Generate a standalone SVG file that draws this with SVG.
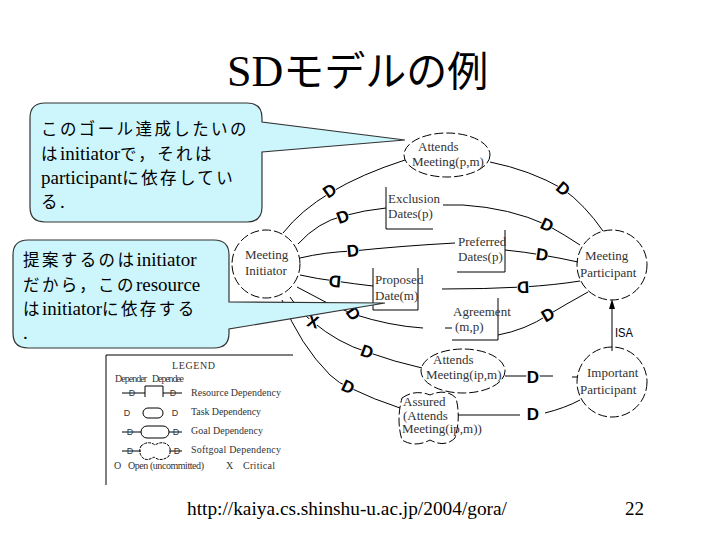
<svg xmlns="http://www.w3.org/2000/svg" width="720" height="540" viewBox="0 0 720 540">
<style>
.cl{fill:#ccf6fc;stroke:#333;stroke-width:1.2}
.ct{font-family:"Noto Sans CJK JP",sans-serif;font-size:16.5px;letter-spacing:2.4px;fill:#000}
.la{font-family:"Liberation Serif",serif;font-size:19px;letter-spacing:0}
.node{fill:none;stroke:#000;stroke-width:1;stroke-dasharray:9 3}
.lbl{font-family:"Liberation Serif",serif;font-size:13px;fill:#333}
.ln{fill:none;stroke:#000;stroke-width:1}
.d{font-family:"Liberation Sans",sans-serif;font-weight:bold;font-size:17px;text-anchor:middle;dominant-baseline:central;fill:#000}
.db{fill:#fff}
.lg{font-family:"Liberation Serif",serif;font-size:10px;fill:#333}
.lgd{font-family:"Liberation Sans",sans-serif;font-size:9px;text-anchor:middle;dominant-baseline:central;fill:#333}
</style>
<rect width="720" height="540" fill="#fff"/>
<text x="227" y="86" fill="#000"><tspan font-family="'Liberation Serif', serif" font-size="44">SD</tspan><tspan font-family="'Noto Sans CJK JP', sans-serif" font-size="41">モデルの例</tspan></text>

<g id="connectors">
<path class="ln" d="M283,233 Q318,188 405,160"/>
<path class="ln" d="M490,162 Q530,170 563,189 Q585,205 603,231"/>
<path class="ln" d="M298,244 Q318,222 343,216 Q365,210 386,208"/>
<path class="ln" d="M443,205 L463,205 Q510,208 547,225 Q565,235 580,245"/>
<path class="ln" d="M300,258 Q325,252 353,251 Q400,246 455,243"/>
<path class="ln" d="M505,250 Q525,252 542,255 Q560,258 578,262"/>
<path class="ln" d="M300,275 Q318,279 335,281 Q355,284 373,286"/>
<path class="ln" d="M442,289 Q485,289 523,287 Q555,285 580,281"/>
<path class="ln" d="M297,287 Q325,303 353,314 Q390,326 423,328 M445,328 H452"/>
<path class="ln" d="M498,335 Q525,330 548,315 Q568,303 588,292"/>
<path class="ln" d="M290,297 Q300,312 313,322 Q338,343 367,352 Q395,362 422,368"/>
<path class="ln" d="M505,376 H553 M572,377 H578"/>
<path class="ln" d="M282,300 Q300,345 330,375 Q340,384 348,387 Q375,400 400,408"/>
<path class="ln" d="M458,415 H520 M545,413 Q565,408 580,400"/>
<path class="ln" d="M612,351 V303"/>
<path d="M612,299 L609,309 L615,309 Z" fill="#000"/>
<text x="615" y="337" font-family="'Liberation Sans',sans-serif" font-size="13" textLength="18" lengthAdjust="spacingAndGlyphs" fill="#000">ISA</text>
<g transform="translate(330,191) rotate(-35)"><circle class="db" r="6"/><text class="d">D</text></g>
<g transform="translate(563,189) rotate(40)"><circle class="db" r="6"/><text class="d">D</text></g>
<g transform="translate(343,217) rotate(-20)"><circle class="db" r="6"/><text class="d">D</text></g>
<g transform="translate(547,225) rotate(25)"><circle class="db" r="6"/><text class="d">D</text></g>
<g transform="translate(353,251) rotate(-5)"><circle class="db" r="6"/><text class="d">D</text></g>
<g transform="translate(542,255) rotate(8)"><circle class="db" r="6"/><text class="d">D</text></g>
<g transform="translate(335,281) rotate(185)"><circle class="db" r="6"/><text class="d">D</text></g>
<g transform="translate(523,287) rotate(178)"><circle class="db" r="6"/><text class="d">D</text></g>
<g transform="translate(353,314) rotate(55)"><circle class="db" r="6"/><text class="d">D</text></g>
<g transform="translate(548,315) rotate(-30)"><circle class="db" r="6"/><text class="d">D</text></g>
<g transform="translate(367,352) rotate(20)"><circle class="db" r="6"/><text class="d">D</text></g>
<g transform="translate(533,377)"><circle class="db" r="7"/><text class="d" font-size="20">D</text></g>
<g transform="translate(348,387) rotate(25)"><circle class="db" r="6"/><text class="d">D</text></g>
<g transform="translate(533,414)"><circle class="db" r="6"/><text class="d">D</text></g>
<g transform="translate(313,322) rotate(15)"><circle class="db" r="5"/><text class="d" font-weight="normal" font-size="16">X</text></g>
</g>

<g id="meeting-initiator"><circle class="node" cx="266" cy="264" r="34"/><text class="lbl" font-size="13.5"><tspan x="245" y="259">Meeting</tspan><tspan x="245" y="275">Initiator</tspan></text></g>
<g id="meeting-participant"><circle class="node" cx="612" cy="265" r="35"/><text class="lbl" font-size="14.5"><tspan x="585" y="260">Meeting</tspan><tspan x="580" y="277">Participant</tspan></text></g>
<g id="important-participant"><circle class="node" cx="612" cy="382" r="35"/><text class="lbl" font-size="14.2"><tspan x="587" y="377">Important</tspan><tspan x="580" y="394">Participant</tspan></text></g>
<g id="attends-meeting-pm"><ellipse class="node" cx="447" cy="155" rx="43" ry="22"/><text class="lbl"><tspan x="418" y="151">Attends</tspan><tspan x="412" y="166">Meeting(p,m)</tspan></text></g>
<g id="exclusion-dates"><path class="ln" d="M386,187 V229 H433"/><text class="lbl"><tspan x="388" y="203">Exclusion</tspan><tspan x="388" y="218">Dates(p)</tspan></text></g>
<g id="preferred-dates"><path class="ln" d="M505,230 V272 H457"/><text class="lbl"><tspan x="458" y="246">Preferred</tspan><tspan x="458" y="261">Dates(p)</tspan></text></g>
<g id="proposed-date"><path class="ln" d="M373,268 V310 H418 V268"/><text class="lbl"><tspan x="375" y="284">Proposed</tspan><tspan x="375" y="300">Date(m)</tspan></text></g>
<g id="agreement"><path class="ln" d="M498,298 V340 H452"/><text class="lbl"><tspan x="453" y="316">Agreement</tspan><tspan x="455" y="331">(m,p)</tspan></text></g>
<g id="attends-meeting-ipm"><ellipse class="node" cx="463" cy="371" rx="42" ry="22"/><text class="lbl"><tspan x="433" y="364">Attends</tspan><tspan x="426" y="379">Meeting(ip,m)</tspan></text></g>
<g id="assured"><path class="node" d="M402,398 Q415,389 430,395 Q446,388 456,398 Q461,418 455,438 Q445,448 430,440 Q415,448 402,440 Q396,420 402,398 Z"/><text class="lbl" font-size="10.5"><tspan x="403" y="406">Assured</tspan><tspan x="403" y="419.5">(Attends</tspan><tspan x="402" y="433">Meeting(ip,m))</tspan></text></g>

<g id="legend">
<path class="ln" d="M106,355 H293 M106,355 V485"/>
<text class="lg" x="172" y="369" textLength="43">LEGEND</text>
<text class="lg" x="115" y="382" textLength="32">Depender</text><text class="lg" x="152" y="382" textLength="32">Dependee</text>
<path class="ln" d="M122,393 H145 M145,397 V386 H163 V397 M163,393 H182"/>
<text class="lgd" x="132" y="393">D</text><text class="lgd" x="173" y="393">D</text>
<text class="lg" x="191" y="396" textLength="90">Resource Dependency</text>
<text class="lgd" x="127" y="413">D</text>
<rect class="ln" x="143" y="408" width="20" height="10" rx="5"/>
<text class="lgd" x="175" y="413">D</text>
<text class="lg" x="191" y="415" textLength="70">Task Dependency</text>
<path class="ln" d="M122,432 H141 M169,432 H182"/>
<rect class="ln" x="141" y="426" width="28" height="12" rx="6"/>
<text class="lgd" x="130" y="432">D</text><text class="lgd" x="176" y="432">D</text>
<text class="lg" x="191" y="434" textLength="72">Goal Dependency</text>
<path class="ln" d="M122,451 H141 M169,451 H182"/>
<path class="ln" d="M141,446 Q148,440 155,445 Q163,440 169,446 Q172,452 168,457 Q160,462 154,457 Q146,462 142,457 Q138,452 141,446 Z" stroke-dasharray="3 1"/>
<text class="lgd" x="130" y="451">D</text><text class="lgd" x="177" y="451">D</text>
<text class="lg" x="191" y="453" textLength="90">Softgoal Dependency</text>
<text class="lg" x="114" y="469">O</text><text class="lg" x="128" y="469" textLength="76">Open (uncommitted)</text>
<text class="lg" x="226" y="469">X</text><text class="lg" x="243" y="469" textLength="32">Critical</text>
</g>

<g id="callout-1">
<path class="cl" d="M45,103 H247 Q262,103 262,118 V122 L405,140 L262,152 V207 Q262,222 247,222 H45 Q30,222 30,207 V118 Q30,103 45,103 Z"/>
<text class="ct"><tspan x="41" y="135">このゴール達成したいの</tspan><tspan x="41" y="160">は<tspan class="la">initiator</tspan>で，それは</tspan><tspan x="41" y="184"><tspan class="la">participant</tspan>に依存してい</tspan><tspan x="41" y="208">る<tspan class="la">.</tspan></tspan></text>
</g>
<g id="callout-2">
<path class="cl" d="M28,240 H214 Q229,240 229,255 V302 L385,303 L229,329 V333 Q229,348 214,348 H28 Q13,348 13,333 V255 Q13,240 28,240 Z"/>
<text class="ct"><tspan x="23" y="266">提案するのは<tspan class="la">initiator</tspan></tspan><tspan x="23" y="291">だから，この<tspan class="la">resource</tspan></tspan><tspan x="23" y="315">は<tspan class="la">initiator</tspan>に依存する</tspan><tspan x="23" y="339" class="la">.</tspan></text>
</g>

<text x="187" y="515" font-family="'Liberation Serif',serif" font-size="18" textLength="320" lengthAdjust="spacingAndGlyphs" fill="#000">http://kaiya.cs.shinshu-u.ac.jp/2004/gora/</text>
<text x="625" y="515" font-family="'Liberation Serif',serif" font-size="19" fill="#000">22</text>
</svg>
